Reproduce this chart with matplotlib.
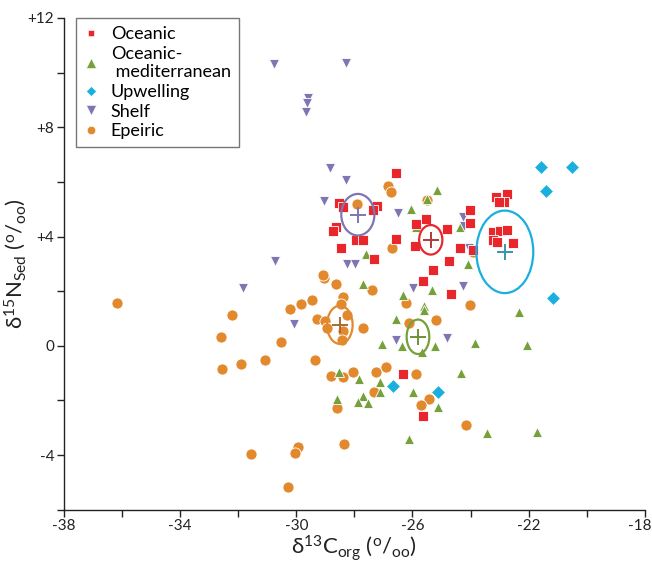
import matplotlib
matplotlib.use("Agg")
import matplotlib.pyplot as plt
from matplotlib.patches import Ellipse
from matplotlib.lines import Line2D
from matplotlib.transforms import ScaledTranslation

plt.rcParams['font.family'] = ['Lato', 'DejaVu Sans']
plt.rcParams['mathtext.default'] = 'regular'

# d13C, d15N values
oceanic_x = [-26.57, -28.53, -28.40, -27.22, -27.36, -28.64, -28.74, -27.95, -27.71, -28.46,
             -27.33, -26.57, -25.54, -25.88, -24.82, -25.92, -24.02, -24.02, -24.37, -23.92,
             -24.75, -25.30, -25.64, -24.68, -23.13, -22.75, -22.85, -23.02, -23.23, -22.99,
             -22.75, -23.23, -23.09, -22.54, -26.33, -25.64]
oceanic_y = [6.34, 5.24, 5.09, 5.13, 4.98, 4.36, 4.21, 3.88, 3.88, 3.59,
             3.19, 3.92, 4.65, 4.47, 4.29, 3.66, 4.98, 4.51, 3.59, 3.52,
             3.11, 2.78, 2.38, 1.90, 5.46, 5.57, 5.27, 5.27, 4.18, 4.21,
             4.25, 3.88, 3.81, 3.77, -1.03, -2.56]

medit_x = [-25.16, -25.50, -26.05, -25.88, -24.37, -27.60, -24.09, -27.71, -25.33, -26.33,
           -25.61, -25.61, -26.57, -22.34, -27.05, -26.36, -25.23, -25.68, -23.85, -22.06,
           -28.53, -27.84, -27.12, -27.12, -28.60, -27.71, -27.88, -27.53, -25.99, -24.33,
           -25.13, -26.12, -23.44, -21.72]
medit_y = [5.71, 5.38, 5.02, 4.36, 4.36, 3.35, 3.00, 2.27, 2.05, 1.87,
           1.47, 1.32, 0.99, 1.25, 0.07, 0.00, 0.00, -0.22, 0.11, 0.04,
           -0.95, -1.21, -1.32, -1.68, -1.94, -1.83, -2.05, -2.09, -1.68, -0.99,
           -2.23, -3.41, -3.19, -3.15]

upwelling_x = [-21.58, -20.51, -21.41, -21.17, -26.67, -25.13]
upwelling_y = [6.56, 6.56, 5.68, 1.76, -1.47, -1.68]

shelf_x = [-30.77, -28.29, -29.60, -29.63, -29.66, -28.84, -28.29, -29.05, -26.50, -30.74,
           -28.26, -27.98, -31.84, -24.27, -24.23, -24.06, -25.99, -24.27, -26.57, -24.82,
           -30.08]
shelf_y = [10.33, 10.37, 9.08, 8.90, 8.57, 6.52, 6.08, 5.31, 4.87, 3.11,
           3.00, 3.00, 2.12, 4.73, 4.40, 3.59, 2.12, 2.20, 0.22, 0.29,
           0.81]

epeiric_x = [-36.18, -32.22, -32.60, -32.56, -31.91, -31.08, -30.53, -30.22, -29.84, -29.46,
             -29.05, -29.08, -28.64, -28.40, -28.46, -28.26, -29.29, -29.02, -28.95, -28.40,
             -28.43, -29.36, -28.81, -28.40, -28.05, -28.60, -28.36, -31.56, -29.94, -30.05,
             -30.29, -27.71, -27.26, -26.92, -27.33, -27.40, -26.23, -26.12, -25.19, -25.88,
             -25.44, -25.71, -24.16, -24.02, -26.85, -26.74, -27.91, -26.71, -25.50, -23.92]
epeiric_y = [1.58, 1.14, 0.33, -0.84, -0.66, -0.51, 0.15, 1.36, 1.54, 1.68,
             2.49, 2.60, 2.27, 1.79, 1.54, 1.14, 0.99, 0.92, 0.66, 0.55,
             0.22, -0.51, -1.10, -1.14, -0.95, -2.27, -3.59, -3.96, -3.70, -3.92,
             -5.16, 0.66, -0.95, -0.77, -1.68, 2.05, 1.58, 0.84, 0.95, -1.03,
             -1.94, -2.16, -2.89, 1.50, 5.86, 5.64, 5.20, 3.59, 5.35, 3.44]

# group means and ellipse half-widths
mean_x = [-25.37, -25.81, -22.82, -27.88, -28.50]
mean_y = [3.88, 0.33, 3.44, 4.80, 0.77]
semi_x = [0.40, 0.39, 0.98, 0.57, 0.44]
semi_y = [0.54, 0.63, 1.51, 0.76, 0.70]

colors = ['#E8262B', '#76A03A', '#1AAFDF', '#7F75B3', '#E3892D']
plus_colors = ['#B03A3A', '#6E9236', '#3596AE', '#7F75B3', '#A66B32']
labels = ['Oceanic', 'Oceanic-\n mediterranean', 'Upwelling', 'Shelf', 'Epeiric']
markers = ['s', '^', 'D', 'v', 'o']
sizes = [7, 7.5, 7, 7.5, 8]
legend_sizes = [5, 6.5, 5.5, 6.5, 6]

fig = plt.figure(figsize=(6.52, 5.62), dpi=100)
ax = fig.add_axes([0.098, 0.093, 0.891, 0.875])

series = [(oceanic_x, oceanic_y), (medit_x, medit_y), (upwelling_x, upwelling_y),
          (shelf_x, shelf_y), (epeiric_x, epeiric_y)]
z = [5, 3, 6, 4, 2]
for i, (xs, ys) in enumerate(series):
    ax.plot(xs, ys, linestyle='none', marker=markers[i], ms=sizes[i],
            color=colors[i], mec='white', mew=0.6, zorder=z[i])

for i in range(5):
    ax.add_patch(Ellipse((mean_x[i], mean_y[i]), 2 * semi_x[i], 2 * semi_y[i],
                         fill=False, ec=colors[i], lw=1.6, zorder=8))
    ax.plot(mean_x[i], mean_y[i], marker='+', ms=12, mew=1.4, color=plus_colors[i], zorder=9)

ax.set_xlim(-38, -18)
ax.set_ylim(-6, 12)

xt = list(range(-38, -17, 2))
ax.set_xticks(xt)
ax.set_xticklabels([str(v) if (v + 38) % 4 == 0 else '' for v in xt])
yt = list(range(-6, 13, 2))
ylab = {12: '+12', 8: '+8', 4: '+4', 0: '0', -4: '-4'}
ax.set_yticks(yt)
ax.set_yticklabels([ylab.get(v, '') for v in yt])
ax.tick_params(direction='out', length=5, width=1, labelsize=11, colors='#222222', pad=2)

# last x label sits against the figure edge, nudge it left a bit
last = ax.get_xticklabels()[-1]
last.set_transform(last.get_transform() + ScaledTranslation(-5 / 100, 0, fig.dpi_scale_trans))

for s in ['top', 'right']:
    ax.spines[s].set_visible(False)
for s in ['left', 'bottom']:
    ax.spines[s].set_linewidth(1)
    ax.spines[s].set_color('#222222')

ax.set_xlabel('δ$^{13}$C$_{org}$ ($^{o}$/$_{oo}$)', fontsize=16, labelpad=0, color='#222222')
ax.set_ylabel('δ$^{15}$N$_{Sed}$ ($^{o}$/$_{oo}$)', fontsize=16, labelpad=0, color='#222222')

handles = [Line2D([], [], linestyle='none', marker=markers[i], ms=legend_sizes[i],
                  color=colors[i], mec='white', mew=0.4) for i in range(5)]
leg = ax.legend(handles, labels, loc='upper left', bbox_to_anchor=(0.02, 1.0),
                fontsize=13, frameon=True, fancybox=False,
                handlelength=0.8, handletextpad=0.7, labelspacing=0.2,
                borderpad=0.45, borderaxespad=0.0)
leg.get_frame().set_edgecolor('#555555')
leg.get_frame().set_linewidth(1)

fig.savefig('out.png', dpi=100)
